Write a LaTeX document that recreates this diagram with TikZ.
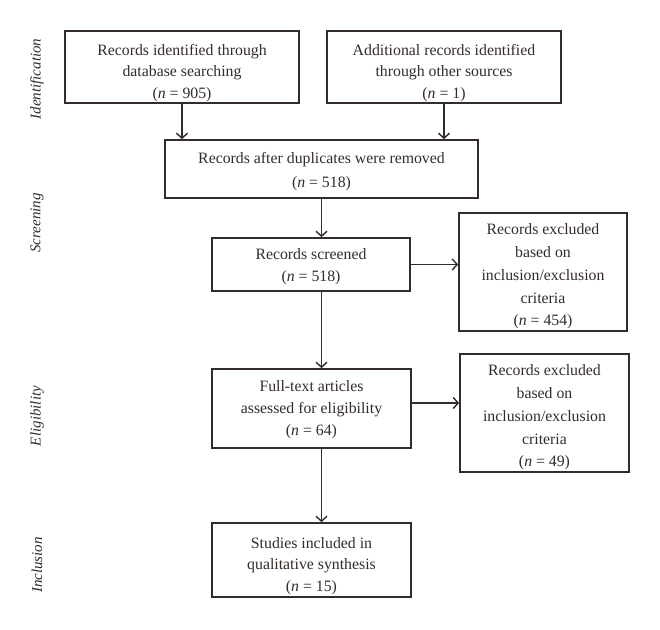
\documentclass[tikz,border=0pt]{standalone}
\usepackage{fontspec}
\setmainfont{Liberation Serif}
\usetikzlibrary{arrows.meta}
\definecolor{ink}{HTML}{332C29}
\newcommand{\nn}[1]{(\textit{n}\ =\ #1)}
\newcommand{\sd}[1]{\rule{0pt}{\dimexpr 11pt+#1\relax}}
\begin{document}
\begin{tikzpicture}[x=1pt,y=-1pt,
  box/.style={draw=ink,line width=1.7pt,text=ink,align=center,inner sep=0pt,
    font=\fontsize{15.8}{21.7}\selectfont},
  arr/.style={draw=ink,line width=1.7pt,-{Straight Barb[length=5pt,width=11pt,line width=1.4pt]}},
  phase/.style={rotate=90,text=ink,font=\fontsize{15}{18}\selectfont\itshape}]
\useasboundingbox (0,0) rectangle (660,629);
\fill[white] (0,0) rectangle (660,629);
\node[box,minimum width=234pt,minimum height=72pt] (b1) at (182,67)
  {\sd{12pt}Records identified through\\database searching\\\nn{905}};
\node[box,minimum width=234pt,minimum height=72pt] (b2) at (444,67)
  {\sd{12pt}Additional records identified\\through other sources\\\nn{1}};
\node[box,minimum width=313pt,minimum height=58pt,font=\fontsize{15.8}{24}\selectfont] (b3) at (321.5,169)
  {\sd{6pt}Records after duplicates were removed\\\nn{518}};
\node[box,minimum width=198pt,minimum height=53pt] (b4) at (311,264.5)
  {\sd{4pt}Records screened\\\nn{518}};
\node[box,minimum width=168pt,minimum height=118pt,font=\fontsize{15.8}{22.7}\selectfont] (b5) at (543,272)
  {\sd{9pt}Records excluded\\based on\\inclusion/exclusion\\criteria\\\nn{454}};
\node[box,minimum width=199pt,minimum height=79pt] (b6) at (311.5,408.5)
  {\sd{2pt}Full-text articles\\assessed for eligibility\\\nn{64}};
\node[box,minimum width=169pt,minimum height=118pt,font=\fontsize{15.8}{22.7}\selectfont] (b7) at (544.5,413)
  {\sd{9pt}Records excluded\\based on\\inclusion/exclusion\\criteria\\\nn{49}};
\node[box,minimum width=199pt,minimum height=74pt] (b8) at (311.5,560)
  {\sd{12pt}Studies included in\\qualitative synthesis\\\nn{15}};
\node[phase] (p1) at (37,79) {Identification};
\node[phase] (p2) at (37,223) {Screening};
\node[phase] (p3) at (37,416) {Eligibility};
\node[phase] (p4) at (37,565) {Inclusion};
\draw[arr] (b1.south) -- (b1.south |- b3.north);
\draw[arr] (b2.south) -- (b2.south |- b3.north);
\draw[arr] (b3.south) -- (b3.south |- b4.north);
\draw[arr] (b4.east) -- (b4.east -| b5.west);
\draw[arr] (b4.south -| b3.south) -- (b6.north -| b3.south);
\draw[arr] ([yshift=5.5pt]b6.east) -- ([yshift=5.5pt]b6.east -| b7.west);
\draw[arr] (b6.south -| b3.south) -- (b8.north -| b3.south);
\end{tikzpicture}
\end{document}
